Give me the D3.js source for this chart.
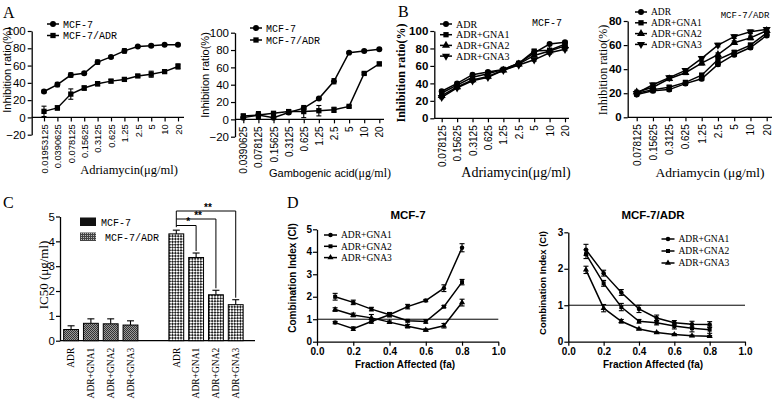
<!DOCTYPE html>
<html><head><meta charset="utf-8">
<script src="https://cdn.jsdelivr.net/npm/d3@7"></script>
<style>
body{margin:0;background:#fff}
svg{display:block}
</style></head><body>
<svg id="fig" width="778" height="400"></svg>
<script>
// ---- data ----
const concA1 = ["0.01953125","0.0390625","0.078125","0.15625","0.3125","0.625","1.25","2.5","5","10","20"];
const concA2 = ["0.0390625","0.078125","0.15625","0.3125","0.625","1.25","2.5","5","10","20"];
const concB = ["0.078125","0.15625","0.3125","0.625","1.25","2.5","5","10","20"];

const a1Mcf7 = [30,38,49,51,64,70,77,82,83,84,84];
const a1Mcf7Err = [1.5,2.5,2.5,1.5,2.5,1.5,2.5,1,1.5,1,1];
const a1Adr = [7,11,27,34,39,42,44,48,50,53,59];
const a1AdrErr = [6,2.5,6,2.5,2.5,2,1.5,1.5,3.5,1.5,3];

const a2Mcf7 = [2,5,2,8,13,24,44,77,79,81];
const a2Mcf7Err = [1,3,1,2,1,1,3,1,1,1];
const a2Adr = [4,5,7,9,9,10,11,15,53,64];
const a2AdrErr = [2,4,2,2,7,6,3,1,1,2];

const b1Adr = [31,40,50,53,56,63,75,85,87];
const b1Gna1 = [29,38,47,51,56,63,77,78,85];
const b1Gna2 = [26,36,44,48,55,62,72,77,83];
const b1Gna3 = [24,35,43,47,55,61,67,75,79];
const b1Err = [1.5,1.5,1.5,1.5,1.5,1.5,1.5,1.5,1.5];

const b2Adr = [19,22,23,28,32,44,52,58,68];
const b2Gna1 = [20,23,25,29,35,48,54,60,70];
const b2Gna2 = [21,25,32,37,45,52,62,66,72];
const b2Gna3 = [20,27,33,39,49,60,67,71,73];
const b2Err = [1.5,1.5,1.5,1.5,1.5,1.5,1.5,1.5,1.5];

const drugs = ["ADR","ADR+GNA1","ADR+GNA2","ADR+GNA3"];
const cells = ["MCF-7","MCF-7/ADR"];
const ic50Mcf7 = [0.45,0.7,0.68,0.63];
const ic50Mcf7Err = [0.15,0.18,0.2,0.17];
const ic50Adr = [4.3,3.35,1.85,1.45];
const ic50AdrErr = [0.15,0.18,0.18,0.2];

const fa = [0.1,0.2,0.3,0.4,0.5,0.6,0.7,0.8];
const d1Gna1 = [0.85,0.58,0.9,1.2,1.56,1.83,2.38,4.18];
const d1Gna1Err = [0.05,0.08,0.08,0.05,0.1,0.05,0.15,0.18];
const d1Gna2 = [2.0,1.75,1.45,1.2,0.93,0.9,1.56,2.65];
const d1Gna2Err = [0.15,0.1,0.08,0.1,0.05,0.08,0.05,0.12];
const d1Gna3 = [1.43,1.19,1.06,0.87,0.69,0.52,0.71,1.74];
const d1Gna3Err = [0.08,0.08,0.15,0.05,0.08,0.05,0.1,0.15];

const d2Gna1 = [2.52,1.88,1.35,0.9,0.65,0.52,0.48,0.47];
const d2Gna1Err = [0.15,0.08,0.08,0.1,0.08,0.06,0.08,0.08];
const d2Gna2 = [2.4,1.6,0.95,0.56,0.52,0.43,0.37,0.33];
const d2Gna2Err = [0.12,0.08,0.1,0.05,0.06,0.08,0.1,0.1];
const d2Gna3 = [1.97,0.92,0.56,0.35,0.25,0.2,0.16,0.15];
const d2Gna3Err = [0.1,0.1,0.05,0.02,0.02,0.02,0.02,0.02];

// ---- setup ----
const SANS = "Liberation Sans, Arial, sans-serif";
const SERIF = "Liberation Serif, Times New Roman, serif";
const MONO = "Liberation Mono, Courier New, monospace";
const svg = d3.select("#fig");

function symPath(type, size) {
  const t = { circle: d3.symbolCircle, square: d3.symbolSquare, triangle: d3.symbolTriangle, tridown: d3.symbolTriangle }[type];
  return d3.symbol().type(t).size(size)();
}

function marker(g, type, cx, cy, size) {
  g.append("path")
    .attr("d", symPath(type, size || 28))
    .attr("transform", `translate(${cx},${cy})` + (type === "tridown" ? " rotate(180)" : ""))
    .attr("fill", "#000");
}

function styleAxis(a, font, size, weight) {
  a.select(".domain").attr("stroke", "#000").attr("stroke-width", 1.3);
  a.selectAll(".tick line").attr("stroke", "#000").attr("stroke-width", 1.2);
  a.selectAll("text")
    .attr("fill", "#000")
    .style("font-family", font)
    .style("font-size", size + "px")
    .style("font-weight", weight || "normal");
}

function rotLabel(x, y, txt, font, size, weight) {
  return svg.append("text")
    .attr("transform", `translate(${x},${y}) rotate(-90)`)
    .attr("text-anchor", "middle")
    .attr("dy", "0.35em")
    .style("font-family", font)
    .style("font-size", size + "px")
    .style("font-weight", weight || "normal")
    .text(txt);
}

function errBar(g, cx, yLo, yHi, cap) {
  g.append("line").attr("x1", cx).attr("x2", cx).attr("y1", yLo).attr("y2", yHi)
    .attr("stroke", "#000").attr("stroke-width", 1.1);
  [yLo, yHi].forEach(yy => g.append("line")
    .attr("x1", cx - cap).attr("x2", cx + cap).attr("y1", yy).attr("y2", yy)
    .attr("stroke", "#000").attr("stroke-width", 1.1));
}

// dose-response panels (A, B)
function dosePanel(o) {
  const g = svg.append("g");
  const x = d3.scalePoint().domain(o.cats).range([o.xFirst, o.xLast]);
  const y = d3.scaleLinear().domain(o.yDomain).range([o.yBottom, o.yTop]);

  const ya = g.append("g").attr("transform", `translate(${o.axisX},0)`)
    .call(d3.axisLeft(y).tickValues(o.yTicks).tickSize(4).tickSizeOuter(0).tickPadding(2));
  styleAxis(ya, SANS, 11.5, o.yBold ? "bold" : "normal");

  const xa = g.append("g").attr("transform", `translate(0,${y(0)})`)
    .call(d3.axisBottom(x).tickSize(4).tickSizeOuter(0));
  xa.select(".domain").remove();
  xa.append("line").attr("x1", o.axisX).attr("x2", o.axisEnd)
    .attr("stroke", "#000").attr("stroke-width", 1.3);
  styleAxis(xa, SANS, o.xFont, "normal");
  xa.selectAll(".tick text")
    .attr("x", -7).attr("y", 0).attr("dy", "0.35em")
    .attr("transform", "rotate(-90)")
    .attr("text-anchor", "end");

  const line = d3.line().x((d, i) => x(o.cats[i])).y(d => y(d));
  o.series.forEach(s => {
    g.append("path").attr("d", line(s.values))
      .attr("fill", "none").attr("stroke", "#000").attr("stroke-width", 1.5);
    s.values.forEach((v, i) => {
      const e = s.err[i];
      errBar(g, x(o.cats[i]), y(v - e), y(v + e), 2.5);
      marker(g, s.symbol, x(o.cats[i]), y(v));
    });
  });

  o.series.forEach((s, i) => {
    const ly = o.legY + i * o.legStep;
    g.append("line").attr("x1", o.legX).attr("x2", o.legX + 12).attr("y1", ly).attr("y2", ly)
      .attr("stroke", "#000").attr("stroke-width", 1.5);
    marker(g, s.symbol, o.legX + 6, ly);
    g.append("text").attr("x", o.legX + 16).attr("y", ly).attr("dy", "0.35em")
      .style("font-family", o.legFont).style("font-size", o.legSize + "px")
      .text(s.name);
  });
}

dosePanel({
  cats: concA1, xFirst: 44, xLast: 178, axisX: 31.7, axisEnd: 184,
  yDomain: [-20, 100], yBottom: 134.7, yTop: 31, yTicks: [-20, 0, 20, 40, 60, 80, 100],
  xFont: 9.3,
  series: [
    { name: "MCF-7", values: a1Mcf7, err: a1Mcf7Err, symbol: "circle" },
    { name: "MCF-7/ADR", values: a1Adr, err: a1AdrErr, symbol: "square" },
  ],
  legX: 47, legY: 24, legStep: 11.5, legFont: MONO, legSize: 10,
});
rotLabel(7, 70, "Inhibition ratio(%)", SANS, 11);
svg.append("text").attr("x", 129).attr("y", 174).attr("text-anchor", "middle")
  .style("font-family", SERIF).style("font-size", "12.5px").text("Adriamycin(μg/ml)");

dosePanel({
  cats: concA2, xFirst: 243.3, xLast: 379.3, axisX: 235, axisEnd: 384,
  yDomain: [-20, 100], yBottom: 136.7, yTop: 32.7, yTicks: [-20, 0, 20, 40, 60, 80, 100],
  xFont: 10,
  series: [
    { name: "MCF-7", values: a2Mcf7, err: a2Mcf7Err, symbol: "circle" },
    { name: "MCF-7/ADR", values: a2Adr, err: a2AdrErr, symbol: "square" },
  ],
  legX: 250, legY: 28, legStep: 12, legFont: MONO, legSize: 10,
});
rotLabel(205, 75, "Inhibition ratio(%)", SANS, 11);
{
  const t = svg.append("text").attr("x", 330).attr("y", 177).attr("text-anchor", "middle");
  t.append("tspan").style("font-family", SANS).style("font-size", "11px").text("Gambogenic acid");
  t.append("tspan").style("font-family", SERIF).style("font-size", "12px").text("(μg/ml)");
}

dosePanel({
  cats: concB, xFirst: 441.7, xLast: 565, axisX: 434.3, axisEnd: 569,
  yDomain: [0, 100], yBottom: 118.3, yTop: 31, yTicks: [0, 20, 40, 60, 80, 100],
  xFont: 10, yBold: true,
  series: [
    { name: "ADR", values: b1Adr, err: b1Err, symbol: "circle" },
    { name: "ADR+GNA1", values: b1Gna1, err: b1Err, symbol: "square" },
    { name: "ADR+GNA2", values: b1Gna2, err: b1Err, symbol: "triangle" },
    { name: "ADR+GNA3", values: b1Gna3, err: b1Err, symbol: "tridown" },
  ],
  legX: 440, legY: 24, legStep: 10.7, legFont: SERIF, legSize: 10,
});
rotLabel(401, 73, "Inhibition ratio(%)", SERIF, 12, "bold");
svg.append("text").attr("x", 516).attr("y", 177).attr("text-anchor", "middle")
  .style("font-family", SERIF).style("font-size", "14px").text("Adriamycin(μg/ml)");
svg.append("text").attr("x", 547).attr("y", 26).attr("text-anchor", "middle")
  .style("font-family", MONO).style("font-size", "10px").text("MCF-7");

dosePanel({
  cats: concB, xFirst: 636.7, xLast: 766.7, axisX: 627.7, axisEnd: 772,
  yDomain: [0, 80], yBottom: 117.3, yTop: 21, yTicks: [0, 20, 40, 60, 80],
  xFont: 10, yBold: true,
  series: [
    { name: "ADR", values: b2Adr, err: b2Err, symbol: "circle" },
    { name: "ADR+GNA1", values: b2Gna1, err: b2Err, symbol: "square" },
    { name: "ADR+GNA2", values: b2Gna2, err: b2Err, symbol: "triangle" },
    { name: "ADR+GNA3", values: b2Gna3, err: b2Err, symbol: "tridown" },
  ],
  legX: 635, legY: 12, legStep: 10.8, legFont: SERIF, legSize: 9.5,
});
rotLabel(603, 70, "Inhibition ratio(%)", SERIF, 12);
svg.append("text").attr("x", 710).attr("y", 177).attr("text-anchor", "middle")
  .style("font-family", SERIF).style("font-size", "13.5px").text("Adriamycin (μg/ml)");
svg.append("text").attr("x", 745).attr("y", 18).attr("text-anchor", "middle")
  .style("font-family", MONO).style("font-size", "9px").text("MCF-7/ADR");

// ---- panel C ----
{
  const defs = svg.append("defs");
  const p1 = defs.append("pattern").attr("id", "fine").attr("patternUnits", "userSpaceOnUse")
    .attr("width", 2).attr("height", 2);
  p1.append("rect").attr("width", 2).attr("height", 2).attr("fill", "#9a9a9a");
  p1.append("rect").attr("width", 1).attr("height", 1).attr("fill", "#333");
  p1.append("rect").attr("x", 1).attr("y", 1).attr("width", 1).attr("height", 1).attr("fill", "#333");
  const p2 = defs.append("pattern").attr("id", "check").attr("patternUnits", "userSpaceOnUse")
    .attr("width", 4).attr("height", 4).attr("patternTransform", "rotate(45)");
  p2.append("rect").attr("width", 4).attr("height", 4).attr("fill", "#fff");
  p2.append("rect").attr("width", 2).attr("height", 2).attr("fill", "#222");
  p2.append("rect").attr("x", 2).attr("y", 2).attr("width", 2).attr("height", 2).attr("fill", "#222");
  const p3 = defs.append("pattern").attr("id", "grid").attr("patternUnits", "userSpaceOnUse")
    .attr("width", 2).attr("height", 2);
  p3.append("rect").attr("width", 2).attr("height", 2).attr("fill", "#bbb");
  p3.append("rect").attr("width", 2).attr("height", 1).attr("fill", "#444");
  p3.append("rect").attr("width", 1).attr("height", 2).attr("fill", "#444");

  const g = svg.append("g");
  const y = d3.scaleLinear().domain([0, 5]).range([340.7, 216.5]);
  const x0 = d3.scaleBand().domain(cells).range([58.7, 248.1]).paddingInner(0.2).paddingOuter(0);
  const x1 = d3.scaleBand().domain(drugs).range([0, x0.bandwidth()]).padding(0.25);

  const ya = g.append("g").attr("transform", "translate(60,0)")
    .call(d3.axisLeft(y).ticks(5).tickSize(4).tickSizeOuter(0).tickPadding(1));
  styleAxis(ya, SANS, 11.5);
  g.append("line").attr("x1", 60).attr("x2", 255).attr("y1", y(0)).attr("y2", y(0))
    .attr("stroke", "#000").attr("stroke-width", 1.3);

  const groups = [
    { cell: "MCF-7", values: ic50Mcf7, err: ic50Mcf7Err, fill: "url(#fine)" },
    { cell: "MCF-7/ADR", values: ic50Adr, err: ic50AdrErr, fill: "url(#check)" },
  ];
  groups.forEach(gr => {
    gr.values.forEach((v, i) => {
      const bx = x0(gr.cell) + x1(drugs[i]);
      const cx = bx + x1.bandwidth() / 2;
      const e = gr.err[i];
      g.append("line").attr("x1", cx).attr("x2", cx).attr("y1", y(v)).attr("y2", y(v + e))
        .attr("stroke", "#000").attr("stroke-width", 1.1);
      g.append("line").attr("x1", cx - 3.5).attr("x2", cx + 3.5).attr("y1", y(v + e)).attr("y2", y(v + e))
        .attr("stroke", "#000").attr("stroke-width", 1.1);
      g.append("rect").attr("x", bx).attr("y", y(v)).attr("width", x1.bandwidth())
        .attr("height", y(0) - y(v)).attr("fill", gr.fill).attr("stroke", "#000").attr("stroke-width", 1);
      g.append("text")
        .attr("transform", `translate(${cx},${y(0) + 7}) rotate(-90)`)
        .attr("text-anchor", "end").attr("dy", "0.35em")
        .style("font-family", SERIF).style("font-size", "9.5px")
        .text(drugs[i]);
    });
  });

  // significance brackets
  const cxOf = i => x0("MCF-7/ADR") + x1(drugs[i]) + x1.bandwidth() / 2;
  const brackets = [
    { to: 3, yLine: 211, star: "**" },
    { to: 2, yLine: 219, star: "**" },
    { to: 1, yLine: 225.5, star: "*" },
  ];
  const x0c = cxOf(0);
  g.append("line").attr("x1", x0c).attr("x2", x0c).attr("y1", 211)
    .attr("y2", y(ic50Adr[0] + ic50AdrErr[0]) - 3).attr("stroke", "#000").attr("stroke-width", 1);
  brackets.forEach(b => {
    const xe = cxOf(b.to);
    g.append("path")
      .attr("d", `M${x0c},${b.yLine}H${xe}V${y(ic50Adr[b.to] + ic50AdrErr[b.to]) - 2}`)
      .attr("fill", "none").attr("stroke", "#000").attr("stroke-width", 1);
    g.append("text").attr("x", (x0c + xe) / 2 + 2).attr("y", b.yLine - 0.5).attr("text-anchor", "middle")
      .style("font-family", SANS).style("font-size", "10px").style("font-weight", "bold").text(b.star);
  });

  // legend
  const leg = [
    { name: "MCF-7", fill: "#111", x: 101 },
    { name: "MCF-7/ADR", fill: "url(#grid)", x: 105 },
  ];
  leg.forEach((l, i) => {
    const ly = 222 + i * 15;
    g.append("rect").attr("x", 80).attr("y", ly - 4.5).attr("width", 16).attr("height", 8.5)
      .attr("fill", l.fill);
    g.append("text").attr("x", l.x).attr("y", ly).attr("dy", "0.35em")
      .style("font-family", MONO).style("font-size", "10px").text(l.name);
  });
  rotLabel(43, 275, "IC50 (μg/ml)", SERIF, 13);
}

// ---- panel D ----
function ciPanel(o) {
  const g = svg.append("g");
  const x = d3.scaleLinear().domain([0, 1]).range([o.x0, o.x1]);
  const y = d3.scaleLinear().domain([0, o.yMax]).range([341.7, o.yTop]);

  const ya = g.append("g").attr("transform", `translate(${o.x0},0)`)
    .call(d3.axisLeft(y).ticks(o.yMax).tickFormat(d3.format("d")).tickSize(4).tickSizeOuter(0).tickPadding(1));
  styleAxis(ya, SANS, 10, "bold");
  const xa = g.append("g").attr("transform", `translate(0,${y(0)})`)
    .call(d3.axisBottom(x).tickValues([0, 0.2, 0.4, 0.6, 0.8, 1]).tickFormat(d3.format(".1f")).tickSize(4).tickSizeOuter(0).tickPadding(2));
  styleAxis(xa, SANS, 10, "bold");

  g.append("line").attr("x1", x(0)).attr("x2", x(1)).attr("y1", y(1)).attr("y2", y(1))
    .attr("stroke", "#000").attr("stroke-width", 1);

  const line = d3.line().x((d, i) => x(fa[i])).y(d => y(d));
  o.series.forEach(s => {
    g.append("path").attr("d", line(s.values))
      .attr("fill", "none").attr("stroke", "#000").attr("stroke-width", 1.5);
    s.values.forEach((v, i) => {
      const e = s.err[i];
      errBar(g, x(fa[i]), y(v - e), y(v + e), 2.5);
      marker(g, s.symbol, x(fa[i]), y(v), 16);
    });
  });

  o.series.forEach((s, i) => {
    const ly = o.legY + i * o.legStep;
    g.append("line").attr("x1", o.legX).attr("x2", o.legX + 13).attr("y1", ly).attr("y2", ly)
      .attr("stroke", "#000").attr("stroke-width", 1.5);
    marker(g, s.symbol, o.legX + 6.5, ly, 16);
    g.append("text").attr("x", o.legX + 17).attr("y", ly).attr("dy", "0.35em")
      .style("font-family", SERIF).style("font-size", "9.5px").text(s.name);
  });

  svg.append("text").attr("x", o.titleX).attr("y", 219).attr("text-anchor", "middle")
    .style("font-family", SANS).style("font-size", "11.5px").style("font-weight", "bold").text(o.title);
  svg.append("text").attr("x", o.xTitleX).attr("y", 368).attr("text-anchor", "middle")
    .style("font-family", SANS).style("font-size", "10px").style("font-weight", "bold").text("Fraction Affected (fa)");
  rotLabel(o.yTitleX, o.yTitleY, "Combination Index (CI)", SANS, o.yTitleSize, "bold");
}

ciPanel({
  x0: 317, x1: 498.3, yMax: 5, yTop: 229.3, title: "MCF-7", titleX: 408,
  series: [
    { name: "ADR+GNA1", values: d1Gna1, err: d1Gna1Err, symbol: "circle" },
    { name: "ADR+GNA2", values: d1Gna2, err: d1Gna2Err, symbol: "square" },
    { name: "ADR+GNA3", values: d1Gna3, err: d1Gna3Err, symbol: "triangle" },
  ],
  legX: 324, legY: 235, legStep: 11.3,
  xTitleX: 405, yTitleX: 292, yTitleY: 278, yTitleSize: 10,
});

ciPanel({
  x0: 568.3, x1: 745, yMax: 3, yTop: 232.3, title: "MCF-7/ADR", titleX: 653,
  series: [
    { name: "ADR+GNA1", values: d2Gna1, err: d2Gna1Err, symbol: "circle" },
    { name: "ADR+GNA2", values: d2Gna2, err: d2Gna2Err, symbol: "square" },
    { name: "ADR+GNA3", values: d2Gna3, err: d2Gna3Err, symbol: "triangle" },
  ],
  legX: 661.5, legY: 239, legStep: 12,
  xTitleX: 653, yTitleX: 543, yTitleY: 283, yTitleSize: 9.5,
});

// panel letters
[["A", 3, 18], ["B", 398, 17], ["C", 3, 208], ["D", 287, 208]].forEach(([t, lx, ly]) =>
  svg.append("text").attr("x", lx).attr("y", ly)
    .style("font-family", SERIF).style("font-size", "16px").text(t));
</script>
</body></html>
